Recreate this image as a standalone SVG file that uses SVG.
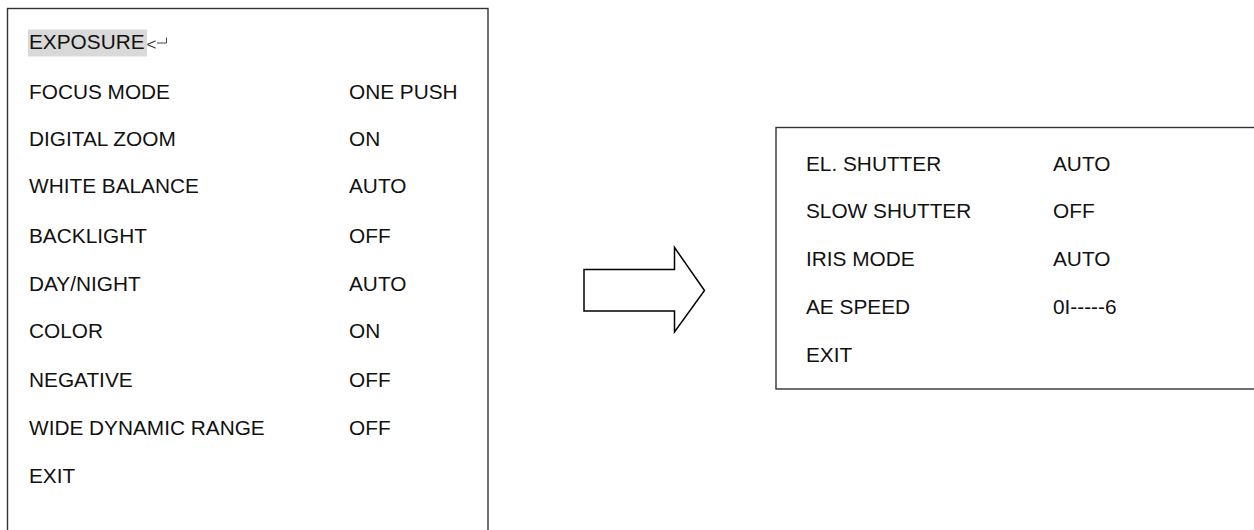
<svg xmlns="http://www.w3.org/2000/svg" width="1254" height="530" viewBox="0 0 1254 530">
<style>
.box{fill:none;stroke:#333;stroke-width:1.4}
.t{font-family:"Liberation Sans",Arial,sans-serif;font-size:20.8px;fill:#111}
.arrow{fill:#fff;stroke:#000;stroke-width:1.5;stroke-linejoin:miter}
</style>
<rect width="1254" height="530" fill="#fff"/>
<g id="menu-main">
<rect class="box" x="7.5" y="8.5" width="480.5" height="540"/>
<rect x="28" y="29.5" width="119" height="27" fill="#d9d9d9"/>
<text class="t" x="29" y="49">EXPOSURE</text>
<text x="146.5" y="49.5" font-family="Liberation Sans,Arial,sans-serif" font-size="17" fill="#444">&lt;</text>
<path d="M157 43H166.5V37.5" fill="none" stroke="#444" stroke-width="1"/>
<text class="t" x="29" y="99">FOCUS MODE</text><text class="t" x="349" y="99">ONE PUSH</text>
<text class="t" x="29" y="146">DIGITAL ZOOM</text><text class="t" x="349" y="146">ON</text>
<text class="t" x="29" y="193">WHITE BALANCE</text><text class="t" x="349" y="193">AUTO</text>
<text class="t" x="29" y="243">BACKLIGHT</text><text class="t" x="349" y="243">OFF</text>
<text class="t" x="29" y="291">DAY/NIGHT</text><text class="t" x="349" y="291">AUTO</text>
<text class="t" x="29" y="338">COLOR</text><text class="t" x="349" y="338">ON</text>
<text class="t" x="29" y="387">NEGATIVE</text><text class="t" x="349" y="387">OFF</text>
<text class="t" x="29" y="435">WIDE DYNAMIC RANGE</text><text class="t" x="349" y="435">OFF</text>
<text class="t" x="29" y="483">EXIT</text>
</g>
<g id="connectors">
<path class="arrow" d="M584 269.5H674.5V247.5L704.5 290.5L674.5 332V311H584Z"/>
</g>
<g id="menu-exposure">
<rect class="box" x="776" y="127.5" width="500" height="261.5"/>
<text class="t" x="806" y="171">EL. SHUTTER</text><text class="t" x="1053" y="171">AUTO</text>
<text class="t" x="806" y="218">SLOW SHUTTER</text><text class="t" x="1053" y="218">OFF</text>
<text class="t" x="806" y="266">IRIS MODE</text><text class="t" x="1053" y="266">AUTO</text>
<text class="t" x="806" y="314">AE SPEED</text><text class="t" x="1053" y="314">0I-----6</text>
<text class="t" x="806" y="362">EXIT</text>
</g>
</svg>
